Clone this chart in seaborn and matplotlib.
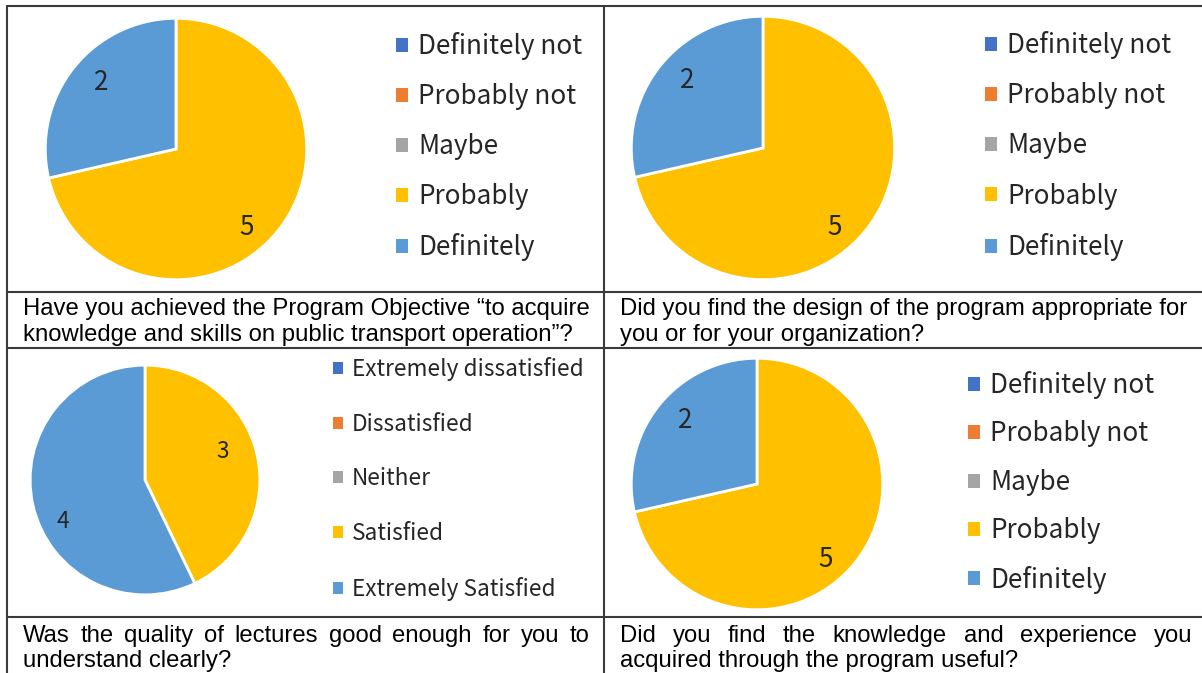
import matplotlib
matplotlib.use("Agg")
import numpy as np
import matplotlib.pyplot as plt
from matplotlib.patches import Patch
from matplotlib.lines import Line2D
import seaborn as sns

# ---- survey data -------------------------------------------------------
likert_labels = ["Definitely not", "Probably not", "Maybe", "Probably", "Definitely"]
satisfaction_labels = ["Extremely dissatisfied", "Dissatisfied", "Neither",
                       "Satisfied", "Extremely Satisfied"]

objective_counts = [0, 0, 0, 5, 2]
design_counts = [0, 0, 0, 5, 2]
lecture_counts = [0, 0, 0, 3, 4]
usefulness_counts = [0, 0, 0, 5, 2]

captions = [
    "Have you achieved the Program Objective \u201cto acquire\n"
    "knowledge and skills on public transport operation\u201d?",
    "Did you find the design of the program appropriate for\n"
    "you or for your organization?",
    "Was the quality of lectures good enough for you to\n"
    "understand clearly?",
    "Did you find the knowledge and experience you\n"
    "acquired through the program useful?",
]

# ---- styling -------------------------------------------------------------
sns.set_theme(style="white")
palette = sns.color_palette(["#4472C4", "#ED7D31", "#A5A5A5", "#FFC000", "#5B9BD5"])
LEGEND_FONT = ["Noto Sans CJK JP", "DejaVu Sans"]
CAPTION_FONT = ["Liberation Sans", "DejaVu Sans"]

W, H = 1202, 673
fig = plt.figure(figsize=(W / 100, H / 100), dpi=100)
fig.patch.set_facecolor("white")


def fx(px):
    return px / W


def fy(py):
    return 1 - py / H


# table grid
grid = dict(color="#3a3a3a", lw=1.5)
for y in (6, 292, 348, 617):
    fig.add_artist(Line2D([fx(7), fx(1202)], [fy(y), fy(y)], **grid))
for x in (7, 604):
    fig.add_artist(Line2D([fx(x), fx(x)], [fy(6), fy(673)], **grid))

# panel layout: pie centre/radius (px), legend anchor, font size, row spacing,
# and per-wedge value-label placement (angular shift in degrees, radial fraction)
panels = [
    dict(counts=objective_counts, labels=likert_labels, c=(176, 149), r=132,
         leg=(396, 32), fs=18.8, spacing=0.88,
         lab=[(-9.5, 0.81), (-3, 0.77)]),
    dict(counts=design_counts, labels=likert_labels, c=(763, 148), r=133,
         leg=(985, 31), fs=18.8, spacing=0.89,
         lab=[(-9.5, 0.81), (-3, 0.77)]),
    dict(counts=lecture_counts, labels=satisfaction_labels, c=(145, 480), r=116,
         leg=(333, 357), fs=16.3, spacing=1.40,
         lab=[(7, 0.72), (14, 0.80)]),
    dict(counts=usefulness_counts, labels=likert_labels, c=(757, 484), r=127,
         leg=(968, 371), fs=18.8, spacing=0.82,
         lab=[(-9, 0.81), (-3, 0.76)]),
]

for p in panels:
    cx, cy = p["c"]
    r = p["r"]
    ax = fig.add_axes([fx(cx - r), fy(cy + r), 2 * r / W, 2 * r / H])
    vals = [v for v in p["counts"] if v > 0]
    cols = [palette[i] for i, v in enumerate(p["counts"]) if v > 0]
    wedges, _ = ax.pie(vals, colors=cols, startangle=90, counterclock=False, radius=1,
                       wedgeprops=dict(edgecolor="white", linewidth=2))
    # value labels inside each wedge
    for w, v, (shift, dist) in zip(wedges, vals, p["lab"]):
        ang = np.deg2rad((w.theta1 + w.theta2) / 2 + shift)
        ax.text(dist * np.cos(ang), dist * np.sin(ang), f"{v}",
                ha="center", va="center", fontsize=p["fs"], color="#262626",
                family=LEGEND_FONT)
    ax.set_xlim(-1.01, 1.01)
    ax.set_ylim(-1.01, 1.01)
    ax.set_aspect("equal")
    ax.axis("off")

    handles = [Patch(facecolor=palette[i], edgecolor="none") for i in range(len(p["labels"]))]
    lx, ly = p["leg"]
    fig.legend(handles, p["labels"], loc="upper left",
               bbox_to_anchor=(fx(lx), fy(ly)), bbox_transform=fig.transFigure,
               frameon=False, borderpad=0, borderaxespad=0,
               handlelength=0.45, handleheight=0.45, handletextpad=0.4,
               labelspacing=p["spacing"],
               prop=dict(family=LEGEND_FONT, size=p["fs"]))

# captions; the first line of each lower caption is justified to the cell width
renderer = fig.canvas.get_renderer()
cells = [(23, 590, 315), (620, 1192, 315), (23, 590, 642), (620, 1192, 642)]
justify = [False, False, True, True]
CAP_FS = 17.2
LINE_GAP = 25.5

for text, (x0, x1, base), just in zip(captions, cells, justify):
    lines = text.split("\n")
    for k, line in enumerate(lines):
        yb = base + k * LINE_GAP
        if just and k < len(lines) - 1:
            words = line.split(" ")
            objs = [fig.text(0, fy(yb), w, fontsize=CAP_FS, family=CAPTION_FONT,
                             color="black", va="baseline", ha="left") for w in words]
            widths = [o.get_window_extent(renderer).width for o in objs]
            gap = ((x1 - x0) - sum(widths)) / (len(words) - 1)
            x = x0
            for o, wdt in zip(objs, widths):
                o.set_x(fx(x))
                x += wdt + gap
        else:
            fig.text(fx(x0), fy(yb), line, fontsize=CAP_FS, family=CAPTION_FONT,
                     color="black", va="baseline", ha="left")

fig.savefig("out.png", dpi=100, facecolor="white")
